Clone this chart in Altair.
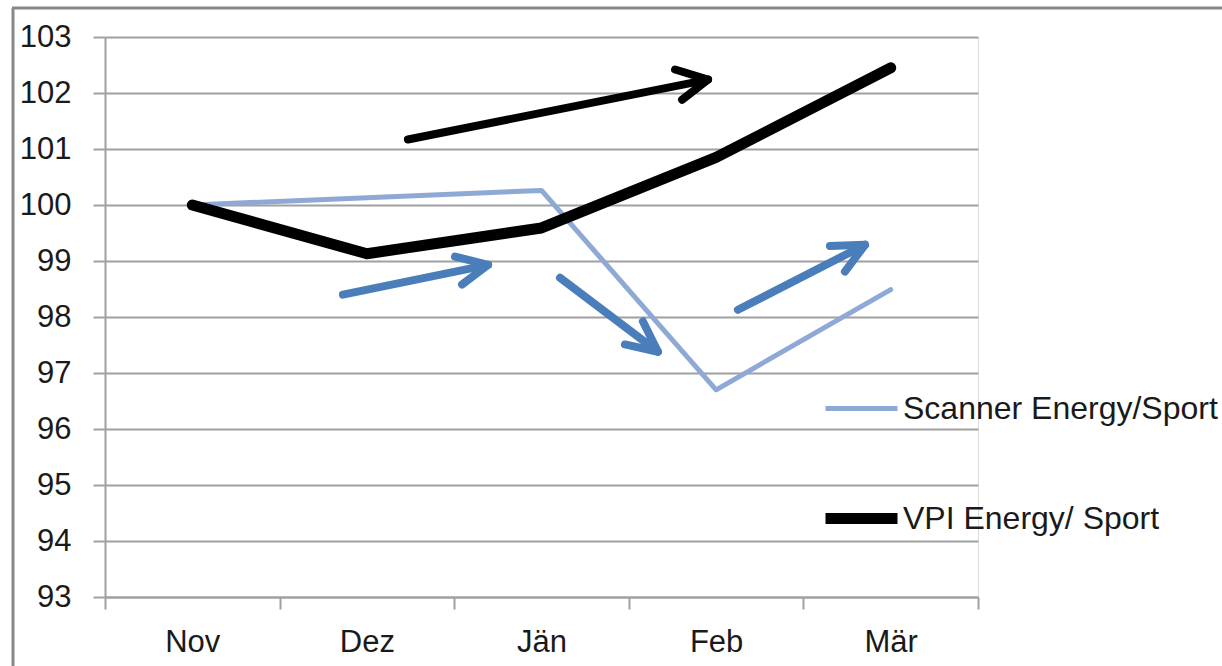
import altair as alt
import pandas as pd

# ---- data ----
months = ["Nov", "Dez", "Jän", "Feb", "Mär"]
scanner = [100.0, 100.13, 100.26, 96.70, 98.49]
vpi = [100.0, 99.13, 99.59, 100.85, 102.45]
series_names = ["Scanner Energy/Sport", "VPI Energy/ Sport"]
y_ticks = list(range(93, 104))

# hand-drawn annotation arrows (x in month index units, y in index units)
arrow_names = ["black", "blue1", "blue2", "blue3"]
arrow_colors = ["#000000", "#4A7EBB", "#4A7EBB", "#4A7EBB"]
arrow_start_x = [1.235, 0.863, 2.106, 3.125]
arrow_start_y = [101.17, 98.40, 98.70, 98.13]
arrow_tip_x = [2.954, 1.694, 2.667, 3.853]
arrow_tip_y = [102.24, 98.93, 97.38, 99.29]
arrow_w1_x = [2.765, 1.505, 2.581, 3.652]
arrow_w1_y = [102.42, 99.08, 97.92, 99.27]
arrow_w2_x = [2.805, 1.545, 2.478, 3.738]
arrow_w2_y = [101.88, 98.58, 97.51, 98.81]

# ---- tables ----
rows = []
for i, m in enumerate(months):
    rows.append({"idx": i, "value": scanner[i], "series": series_names[0]})
    rows.append({"idx": i, "value": vpi[i], "series": series_names[1]})
lines_df = pd.DataFrame(rows)

arows = []
for k, name in enumerate(arrow_names):
    arows.append({"seg": name + "_s", "arrow": name, "o": 0, "x": arrow_start_x[k], "y": arrow_start_y[k]})
    arows.append({"seg": name + "_s", "arrow": name, "o": 1, "x": arrow_tip_x[k], "y": arrow_tip_y[k]})
    arows.append({"seg": name + "_h", "arrow": name, "o": 0, "x": arrow_w1_x[k], "y": arrow_w1_y[k]})
    arows.append({"seg": name + "_h", "arrow": name, "o": 1, "x": arrow_tip_x[k], "y": arrow_tip_y[k]})
    arows.append({"seg": name + "_h", "arrow": name, "o": 2, "x": arrow_w2_x[k], "y": arrow_w2_y[k]})
arrows_df = pd.DataFrame(arows)

FONT = "Liberation Sans"
GRID = "#A0A0A0"

month_js = "[" + ",".join("'" + m + "'" for m in months) + "]"

x_scale = alt.Scale(domain=[-0.5, len(months) - 0.5], nice=False, zero=False)
y_scale = alt.Scale(domain=[93, 103], nice=False, zero=False)

x_axis = alt.Axis(
    values=[i * 0.5 - 0.5 for i in range(2 * len(months) + 1)],
    labelExpr="datum.value % 1 === 0 ? " + month_js + "[datum.value] : ''",
    tickOpacity={"condition": {"test": "datum.value % 1 === 0", "value": 0}, "value": 1},
    grid=False, title=None, tickSize=12, tickColor=GRID, tickWidth=2,
    domainColor=GRID, domainWidth=2, labelFont=FONT, labelFontSize=31,
    labelColor="#1a1a1a", labelPadding=18, labelFlush=False, labelOverlap=False,
)
y_axis = alt.Axis(
    values=y_ticks, grid=True, gridColor=GRID, gridWidth=2, title=None,
    tickSize=12, tickColor=GRID, tickWidth=2, domainColor=GRID, domainWidth=2,
    labelFont=FONT, labelFontSize=31, labelColor="#1a1a1a", labelPadding=22,
)

legend_props = dict(
    title=None, orient="none", legendX=715, legendY=333,
    symbolType="stroke", symbolSize=5184,
    labelFont=FONT, labelFontSize=32, labelColor="#1a1a1a",
    labelOffset=0, rowPadding=52, padding=0, labelLimit=400,
)

lines = alt.Chart(lines_df).mark_line(strokeCap="round", strokeJoin="round").encode(
    x=alt.X("idx:Q", scale=x_scale, axis=x_axis),
    y=alt.Y("value:Q", scale=y_scale, axis=y_axis),
    color=alt.Color("series:N", scale=alt.Scale(domain=series_names, range=["#8EA9D6", "#000000"]),
                    legend=alt.Legend(**legend_props)),
    strokeWidth=alt.StrokeWidth("series:N", scale=alt.Scale(domain=series_names, range=[5, 11]),
                                legend=alt.Legend(**legend_props)),
)

arrows = alt.Chart(arrows_df).mark_line(strokeWidth=8, strokeCap="round", strokeJoin="round").encode(
    x=alt.X("x:Q", scale=x_scale),
    y=alt.Y("y:Q", scale=y_scale),
    detail="seg:N",
    order="o:Q",
    stroke=alt.Stroke("arrow:N", scale=alt.Scale(domain=arrow_names, range=arrow_colors), legend=None),
)

frame_left = alt.Chart(pd.DataFrame({"k": [0]})).mark_rule(color="#888888", strokeWidth=3).encode(
    x=alt.value(-92), y=alt.value(-29), y2=alt.value(640)
)
frame_top = alt.Chart(pd.DataFrame({"k": [0]})).mark_rule(color="#888888", strokeWidth=3).encode(
    x=alt.value(-93), x2=alt.value(1130), y=alt.value(-29)
)

chart = alt.layer(frame_left, frame_top, lines, arrows).properties(
    width=873, height=560,
    padding={"left": 105, "top": 37, "right": 244, "bottom": 69},
    autosize=alt.AutoSizeParams(type="none"),
).configure_view(stroke=None).configure(background="white")

chart.save("out.html", embed_options={"renderer": "svg", "actions": False})
